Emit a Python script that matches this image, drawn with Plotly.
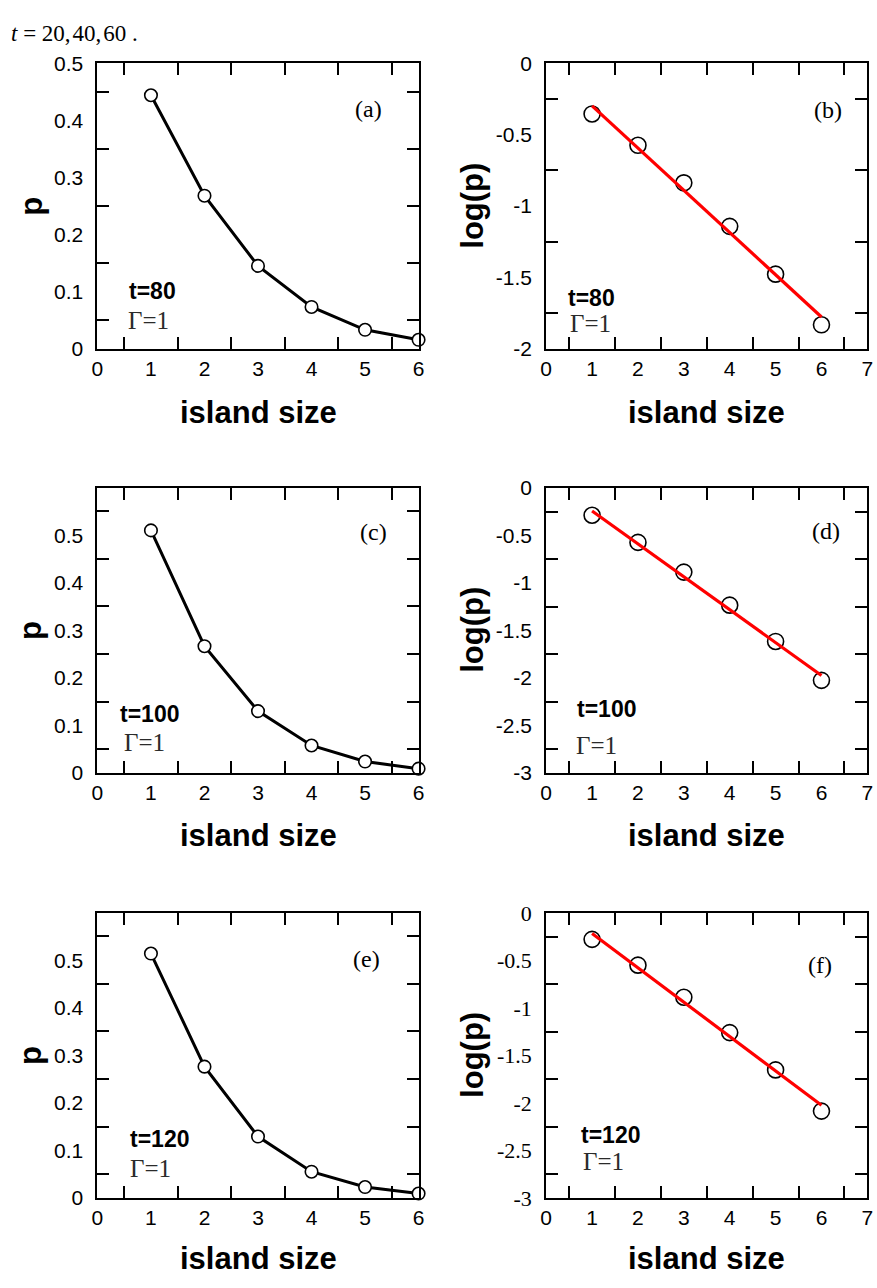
import plotly.graph_objects as go

# Island size distribution at three times, linear p and log10(p) with a linear fit
island_size = [1, 2, 3, 4, 5, 6]

p_t80 = [0.444, 0.268, 0.145, 0.073, 0.033, 0.0155]
p_t100 = [0.510, 0.2665, 0.130, 0.0577, 0.024, 0.009]
p_t120 = [0.514, 0.276, 0.129, 0.055, 0.0227, 0.009]

logp_t80 = [-0.355, -0.575, -0.838, -1.143, -1.478, -1.833]
logp_t100 = [-0.286, -0.572, -0.885, -1.233, -1.615, -2.025]
logp_t120 = [-0.276, -0.548, -0.886, -1.259, -1.652, -2.086]

fit_x = [1, 6]
fit_t80 = [-0.298, -1.778]
fit_t100 = [-0.241, -1.974]
fit_t120 = [-0.214, -2.024]

p_ticks = [0, 0.1, 0.2, 0.3, 0.4, 0.5]
p_ticktext = ["0", "0.1", "0.2", "0.3", "0.4", "0.5"]
logp_ticks = [0, -0.5, -1, -1.5, -2, -2.5, -3]
logp_ticktext = ["0", "-0.5", "-1", "-1.5", "-2", "-2.5", "-3"]

time_labels = ["t=80", "t=100", "t=120"]
panel_labels = ["(a)", "(b)", "(c)", "(d)", "(e)", "(f)"]

SANS = "Liberation Sans, Arial, sans-serif"
SERIF = "Liberation Serif, Times New Roman, serif"

W, H = 877, 1288

# plot boxes in pixels: (left, right, top, bottom)
boxes = {
    1: (92.7, 418.3, 52.3, 343.3),
    2: (547.7, 873.3, 52.3, 343.3),
    3: (92.7, 418.3, 485.0, 776.0),
    4: (547.7, 873.3, 485.5, 776.0),
    5: (92.7, 418.3, 918.5, 1209.3),
    6: (547.7, 873.3, 919.0, 1209.3),
}


def px_x(x):
    return x / W


def px_y(y):
    return 1 - y / H


fig = go.Figure()

lin_sets = [(1, p_t80), (3, p_t100), (5, p_t120)]
log_sets = [(2, logp_t80, fit_t80), (4, logp_t100, fit_t100), (6, logp_t120, fit_t120)]


def ax_names(i):
    return ("x" if i == 1 else f"x{i}"), ("y" if i == 1 else f"y{i}")


for i, p in lin_sets:
    xa, ya = ax_names(i)
    fig.add_trace(go.Scatter(
        x=island_size, y=p, xaxis=xa, yaxis=ya, mode="lines+markers",
        line=dict(color="black", width=3),
        marker=dict(symbol="circle", size=12.5, color="white",
                    line=dict(color="black", width=1.6)),
        cliponaxis=False, showlegend=False,
    ))

for i, lp, fit in log_sets:
    xa, ya = ax_names(i)
    fig.add_trace(go.Scatter(
        x=island_size, y=lp, xaxis=xa, yaxis=ya, mode="markers",
        marker=dict(symbol="circle-open", size=16, color="black",
                    line=dict(color="black", width=1.6)),
        cliponaxis=False, showlegend=False,
    ))
    fig.add_trace(go.Scatter(
        x=fit_x, y=fit, xaxis=xa, yaxis=ya, mode="lines",
        line=dict(color="#ff0000", width=3.2),
        cliponaxis=False, showlegend=False,
    ))

tick_font = dict(family=SANS, size=21, color="black")
serif_tick_font = dict(family="Liberation Serif", size=22, color="black")


def axis_common():
    return dict(
        showline=True, linewidth=2, linecolor="black", mirror="ticks",
        showgrid=False, zeroline=False, ticks="", fixedrange=True,
    )


layout = {}
for i in range(1, 7):
    l, r, t, b = boxes[i]
    xkey = "xaxis" if i == 1 else f"xaxis{i}"
    ykey = "yaxis" if i == 1 else f"yaxis{i}"
    ya_anchor = "y" if i == 1 else f"y{i}"
    xa_anchor = "x" if i == 1 else f"x{i}"
    left_col = i % 2 == 1
    xmax = 6 if left_col else 7
    xa = axis_common()
    xa.update(
        domain=[px_x(l), px_x(r)], anchor=ya_anchor, range=[0, xmax],
        tickvals=list(range(0, xmax + 1)), tickfont=tick_font,
        ticklabelstandoff=0,
        minor=dict(tick0=0.5, dtick=1, ticks="inside", ticklen=12,
                   tickwidth=2, tickcolor="black", showgrid=False),
    )
    ya = axis_common()
    if left_col:
        ymax = 0.5 if i == 1 else 0.6
        ya.update(range=[0, ymax], tickvals=p_ticks, ticktext=p_ticktext,
                  minor=dict(tick0=0.05, dtick=0.1, ticks="inside", ticklen=12,
                             tickwidth=2, tickcolor="black", showgrid=False))
    else:
        ymin = -2 if i == 2 else -3
        n = 5 if i == 2 else 7
        ya.update(range=[ymin, 0], tickvals=logp_ticks[:n],
                  ticktext=logp_ticktext[:n],
                  minor=dict(tick0=-0.25, dtick=0.5, ticks="inside", ticklen=12,
                             tickwidth=2, tickcolor="black", showgrid=False))
    ya.update(domain=[px_y(b), px_y(t)], anchor=xa_anchor,
              tickfont=serif_tick_font if i == 6 else tick_font,
              ticklabelstandoff=8)
    layout[xkey] = xa
    layout[ykey] = ya

annotations = []

# axis titles
for row, (xt_y, yc) in enumerate([(408, 198), (840, 630.5), (1271, 1064)]):
    for col, (xc, ylab, ylab_x) in enumerate([(255.5, "p", 25), (710.5, "log(p)", 473)]):
        annotations.append(dict(
            text="<b>island size</b>", x=px_x(xc), y=px_y(xt_y), xref="paper",
            yref="paper", xanchor="center", yanchor="middle", showarrow=False,
            font=dict(family=SANS, size=31, color="black"),
        ))
        annotations.append(dict(
            text=f"<b>{ylab}</b>", x=px_x(ylab_x), y=px_y(yc), xref="paper",
            yref="paper", xanchor="center", yanchor="middle", showarrow=False,
            textangle=-90, font=dict(family=SANS, size=31, color="black"),
        ))

# panel letters
letter_pos = [(368, 99), (833, 100), (373, 530), (831, 529), (366, 966), (825, 972)]
for lab, (x, y) in zip(panel_labels, letter_pos):
    annotations.append(dict(
        text=lab, x=px_x(x), y=px_y(y), xref="paper", yref="paper",
        xanchor="center", yanchor="middle", showarrow=False,
        font=dict(family=SERIF, size=24, color="black"),
    ))

# time and Gamma labels
t_pos = [(148.5, 285), (594, 291.5), (145, 716), (609, 711), (156, 1149), (612.5, 1145)]
g_pos = [(144.5, 315), (592.5, 318), (140, 745), (598.5, 748), (146, 1179), (605.5, 1172)]
for k in range(6):
    tl = time_labels[k // 2]
    annotations.append(dict(
        text=f"<b>{tl}</b>", x=px_x(t_pos[k][0]), y=px_y(t_pos[k][1]),
        xref="paper", yref="paper", xanchor="center", yanchor="middle",
        showarrow=False, font=dict(family=SANS, size=23, color="black"),
    ))
    annotations.append(dict(
        text="\u0393=1", x=px_x(g_pos[k][0]), y=px_y(g_pos[k][1]),
        xref="paper", yref="paper", xanchor="center", yanchor="middle",
        showarrow=False, font=dict(family=SERIF, size=25, color="#2a2a2a"),
    ))

# leading line of text above the panels
annotations.append(dict(
    text="<i>t</i> = 20,\u200a40,\u200a60 .", x=px_x(3), y=px_y(21.5), xref="paper",
    yref="paper", xanchor="left", yanchor="middle", showarrow=False,
    font=dict(family=SERIF, size=23, color="black"),
))

fig.update_layout(
    width=W, height=H, margin=dict(l=0, r=0, t=0, b=0),
    paper_bgcolor="white", plot_bgcolor="white",
    annotations=annotations, showlegend=False, **layout,
)

fig.write_html("out.html", config={"displayModeBar": False})
